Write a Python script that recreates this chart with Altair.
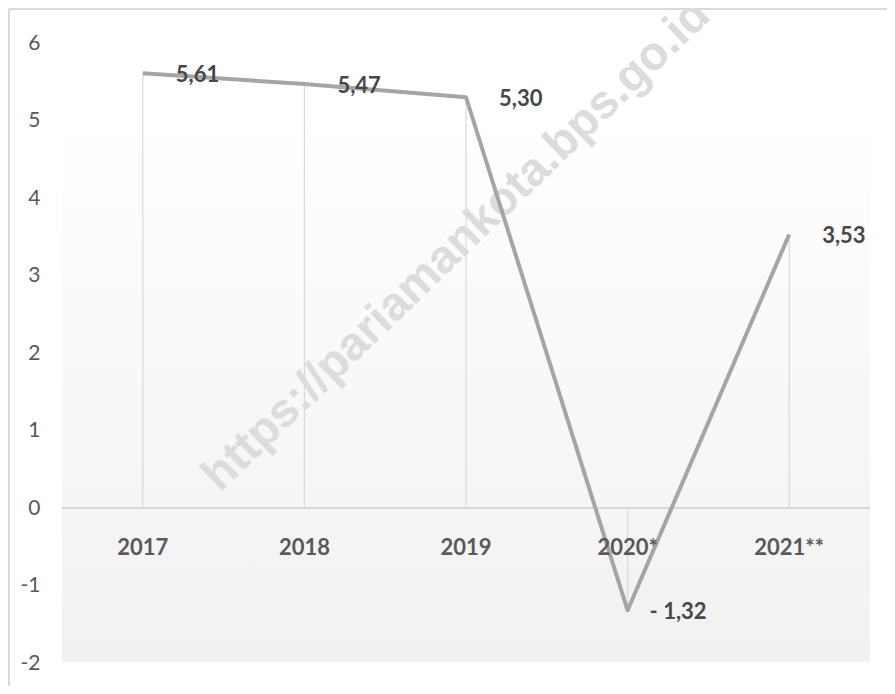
import altair as alt
import pandas as pd

years = ["2017", "2018", "2019", "2020*", "2021**"]
growth = [5.61, 5.47, 5.30, -1.32, 3.53]
y_ticks = [-2, -1, 0, 1, 2, 3, 4, 5, 6]
watermark = ["https://pariamankota.bps.go.id"]

df = pd.DataFrame({"year": years, "v": growth})
one = pd.DataFrame({"t": watermark})

W, H = 808, 620
TXT = "#595959"
LBL = "#474747"

x_enc = alt.X("year:N", sort=years,
              scale=alt.Scale(type="point", domain=years, padding=0.5),
              axis=None)
y_enc = alt.Y("v:Q",
              scale=alt.Scale(domain=[-2, 6], nice=False, zero=False),
              axis=alt.Axis(values=y_ticks, labelExpr="datum.value + ''",
                            grid=False, domain=False, ticks=False,
                            labelFont="Lato", labelFontSize=21, labelColor=TXT,
                            labelPadding=22, title=None))

base = alt.Chart(df)

# plot-area background gradient
bg = alt.Chart(one).mark_rect(
    fill=alt.Gradient(gradient="linear", x1=0, x2=0, y1=0, y2=1,
                      stops=[alt.GradientStop(color="#ffffff", offset=0),
                             alt.GradientStop(color="#f1f1f1", offset=1)])
).encode(x=alt.value(0), x2=alt.value(W), y=alt.value(70), y2=alt.value(619))

# outer frame (top and left)
frame_top = alt.Chart(one).mark_rule(color="#d9d9d9", strokeWidth=2).encode(
    x=alt.value(-53), x2=alt.value(W + 17), y=alt.value(-34))
frame_left = alt.Chart(one).mark_rule(color="#d9d9d9", strokeWidth=2).encode(
    x=alt.value(-53), y=alt.value(-34), y2=alt.value(H + 23))

wm = alt.Chart(one).mark_text(
    angle=316, align="left", baseline="alphabetic", font="Liberation Sans",
    fontWeight="bold", fontSize=47, color="#dcdcdc"
).encode(x=alt.value(158), y=alt.value(450), text="t:N")

zero = base.mark_rule(color="#d9d9d9", strokeWidth=2).encode(
    x=alt.value(0), x2=alt.value(W), y=alt.datum(0))

drops = base.mark_rule(color="#d9d9d9", strokeWidth=1.2).encode(
    x=x_enc, y=y_enc, y2=alt.datum(0))

line = base.mark_line(color="#a5a5a5", strokeWidth=4, strokeJoin="round").encode(
    x=x_enc, y=y_enc)

cats = base.mark_text(font="Lato", fontWeight="bold", fontSize=22, color=TXT,
                      dy=40, baseline="middle").encode(
    x=x_enc, y=alt.datum(0), text="year:N")

pos_lab = base.transform_filter("datum.v >= 0").transform_calculate(
    lab="replace(format(datum.v, '.2f'), '.', ',')"
).mark_text(font="Lato", fontWeight="bold", fontSize=22, color=LBL,
            align="left", baseline="middle", dx=33, dy=2).encode(
    x=x_enc, y=y_enc, text="lab:N")

neg_lab = base.transform_filter("datum.v < 0").transform_calculate(
    lab="'-  ' + replace(format(abs(datum.v), '.2f'), '.', ',')"
).mark_text(font="Lato", fontWeight="bold", fontSize=22, color=LBL,
            align="left", baseline="middle", dx=22, dy=2).encode(
    x=x_enc, y=y_enc, text="lab:N")

chart = alt.layer(bg, frame_top, frame_left, zero, drops, wm, line, cats, pos_lab, neg_lab).properties(
    width=W, height=H,
    autosize=alt.AutoSizeParams(type="none"),
    padding={"left": 54, "top": 35, "right": 17, "bottom": 23},
).configure_view(stroke=None)

chart.save("out.html", embed_options={"renderer": "svg", "actions": False})
